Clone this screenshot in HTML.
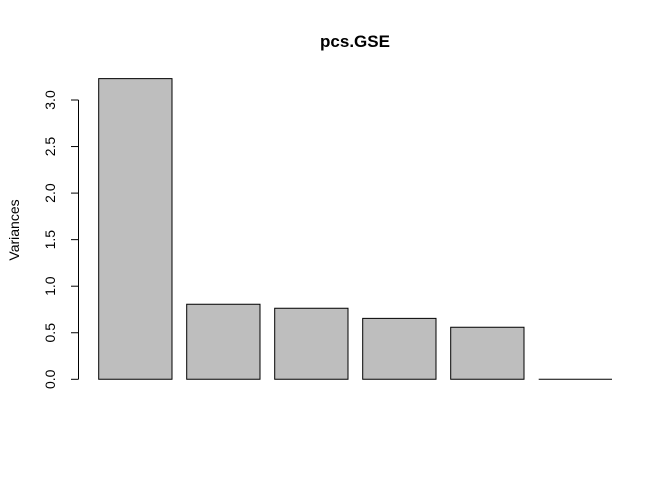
<!DOCTYPE html>
<html><head><meta charset="utf-8"><style>body{margin:0;background:#fff}svg{display:block;font-family:"Liberation Sans",Arial,sans-serif}</style></head>
<body>
<svg id="chart" width="672" height="480">
<text x="355" y="47" text-anchor="middle" font-weight="bold" font-size="17">pcs.GSE</text>
<text transform="translate(19,230) rotate(-90)" text-anchor="middle" font-size="14">Variances</text>
<g id="axis"></g>
<g id="bars"></g>
</svg>
<script>
const components = ["PC1","PC2","PC3","PC4","PC5","PC6"];
const variances = [3.23, 0.806, 0.763, 0.655, 0.559, 0.0];
const yTicks = [0, 0.5, 1, 1.5, 2, 2.5, 3];
const yTickLabels = ["0.0","0.5","1.0","1.5","2.0","2.5","3.0"];
const NS="http://www.w3.org/2000/svg";
const y0=379.3, pxPerUnit=93.1;
function yScale(v){return y0-v*pxPerUnit;}
function xScale(i){return 98.7+i*88;}
const bw=73.3;
const axis=document.getElementById('axis'), bars=document.getElementById('bars');
function mk(t,a,p){const e=document.createElementNS(NS,t);for(const k in a)e.setAttribute(k,a[k]);p.appendChild(e);return e;}
const ln=mk('line',{x1:78.5,x2:78.5,y1:yScale(yTicks[0]),y2:yScale(yTicks[yTicks.length-1]),stroke:'#000'},axis);


yTicks.forEach((t,i)=>{
  const y=yScale(t);
  const tk=mk('line',{x1:71,x2:78.5,y1:y,y2:y,stroke:'#000'},axis);
  
  
  const tx=mk('text',{transform:`translate(55,${y}) rotate(-90)`,'text-anchor':'middle','font-size':'14'},axis);
  tx.textContent=yTickLabels[i];
  
  
});
components.forEach((c,i)=>{
  const top=yScale(variances[i]);
  const x=xScale(i);
  const r=mk('path',{d:`M${x},${y0}V${top}H${x+bw}V${y0}Z`,fill:'#bebebe',stroke:'#000','stroke-width':1},bars);
  
  
});
</script>
</body></html>
